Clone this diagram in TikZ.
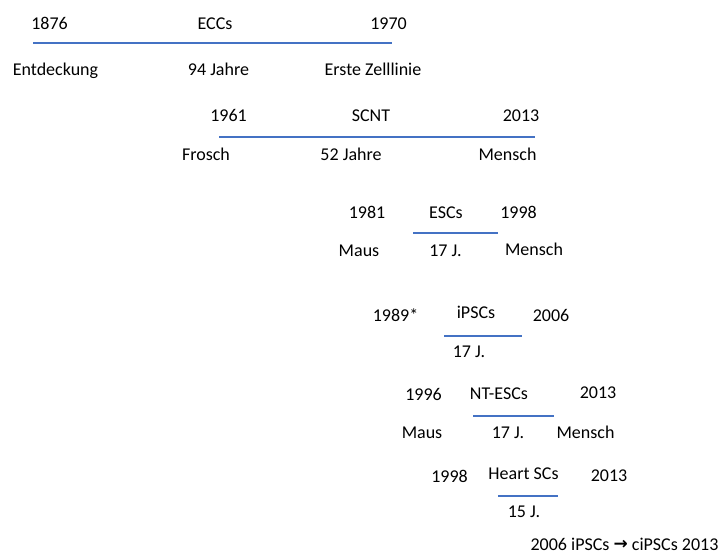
\documentclass[tikz,border=0pt]{standalone}
\usepackage{fontspec}
\setmainfont{Carlito}
\newfontfamily\arrowfont{DejaVu Sans}
\definecolor{lineblue}{HTML}{4472C4}
\tikzset{
  lbl/.style={anchor=base, inner sep=0pt, font=\fontsize{18}{20}\selectfont, text=black},
  tline/.style={draw=lineblue, line width=1.4pt}
}
\begin{document}
\begin{tikzpicture}[x=1pt,y=-1pt]
\useasboundingbox (0,0) rectangle (723,555);
% ECCs
\node[lbl] (a1) at (49.5,29) {1876};
\node[lbl] (a2) at (215,29) {ECCs};
\node[lbl] (a3) at (388.5,29) {1970};
\coordinate (a4) at (33,43);
\coordinate (a5) at (392,43);
\draw[tline] (a4) -- (a5);
\node[lbl] (a6) at (55.5,75) {Entdeckung};
\node[lbl] (a7) at (218.5,75) {94 Jahre};
\node[lbl] (a8) at (373,75) {Erste Zelllinie};
% SCNT
\node[lbl] (b1) at (228.5,121) {1961};
\node[lbl] (b2) at (371,121) {SCNT};
\node[lbl] (b3) at (521,121) {2013};
\coordinate (b4) at (219,137);
\coordinate (b5) at (535,137);
\draw[tline] (b4) -- (b5);
\node[lbl] (b6) at (206,160) {Frosch};
\node[lbl] (b7) at (351,160) {52 Jahre};
\node[lbl] (b8) at (507.5,160) {Mensch};
% ESCs
\node[lbl] (c1) at (367,218) {1981};
\node[lbl] (c2) at (446,218) {ESCs};
\node[lbl] (c3) at (518.5,218) {1998};
\coordinate (c4) at (413,233);
\coordinate (c5) at (498,233);
\draw[tline] (c4) -- (c5);
\node[lbl] (c6) at (359,256) {Maus};
\node[lbl] (c7) at (445.5,256) {17 J.};
\node[lbl] (c8) at (534,255) {Mensch};
% iPSCs
\node[lbl] (d1) at (395.5,321) {1989*};
\node[lbl] (d2) at (476,318) {iPSCs};
\node[lbl] (d3) at (551,321) {2006};
\coordinate (d4) at (444,336);
\coordinate (d5) at (522,336);
\draw[tline] (d4) -- (d5);
\node[lbl] (d7) at (469,357) {17 J.};
% NT-ESCs
\node[lbl] (e1) at (423.5,400) {1996};
\node[lbl] (e2) at (499,399) {NT-ESCs};
\node[lbl] (e3) at (598,398) {2013};
\coordinate (e4) at (473,416);
\coordinate (e5) at (554,416);
\draw[tline] (e4) -- (e5);
\node[lbl] (e6) at (422,438) {Maus};
\node[lbl] (e7) at (508,438) {17 J.};
\node[lbl] (e8) at (585.5,438) {Mensch};
% Heart SCs
\node[lbl] (f1) at (449.5,482) {1998};
\node[lbl] (f2) at (523.5,479) {Heart SCs};
\node[lbl] (f3) at (609,481) {2013};
\coordinate (f4) at (498,496);
\coordinate (f5) at (558,496);
\draw[tline] (f4) -- (f5);
\node[lbl] (f7) at (524,517) {15 J.};
% ciPSCs
\node[lbl] (g1) at (624.5,550) {2006 iPSCs {\arrowfont\bfseries\fontsize{17}{18}\selectfont\raisebox{0.5pt}{\char"2192}} ciPSCs 2013};
\end{tikzpicture}
\end{document}
